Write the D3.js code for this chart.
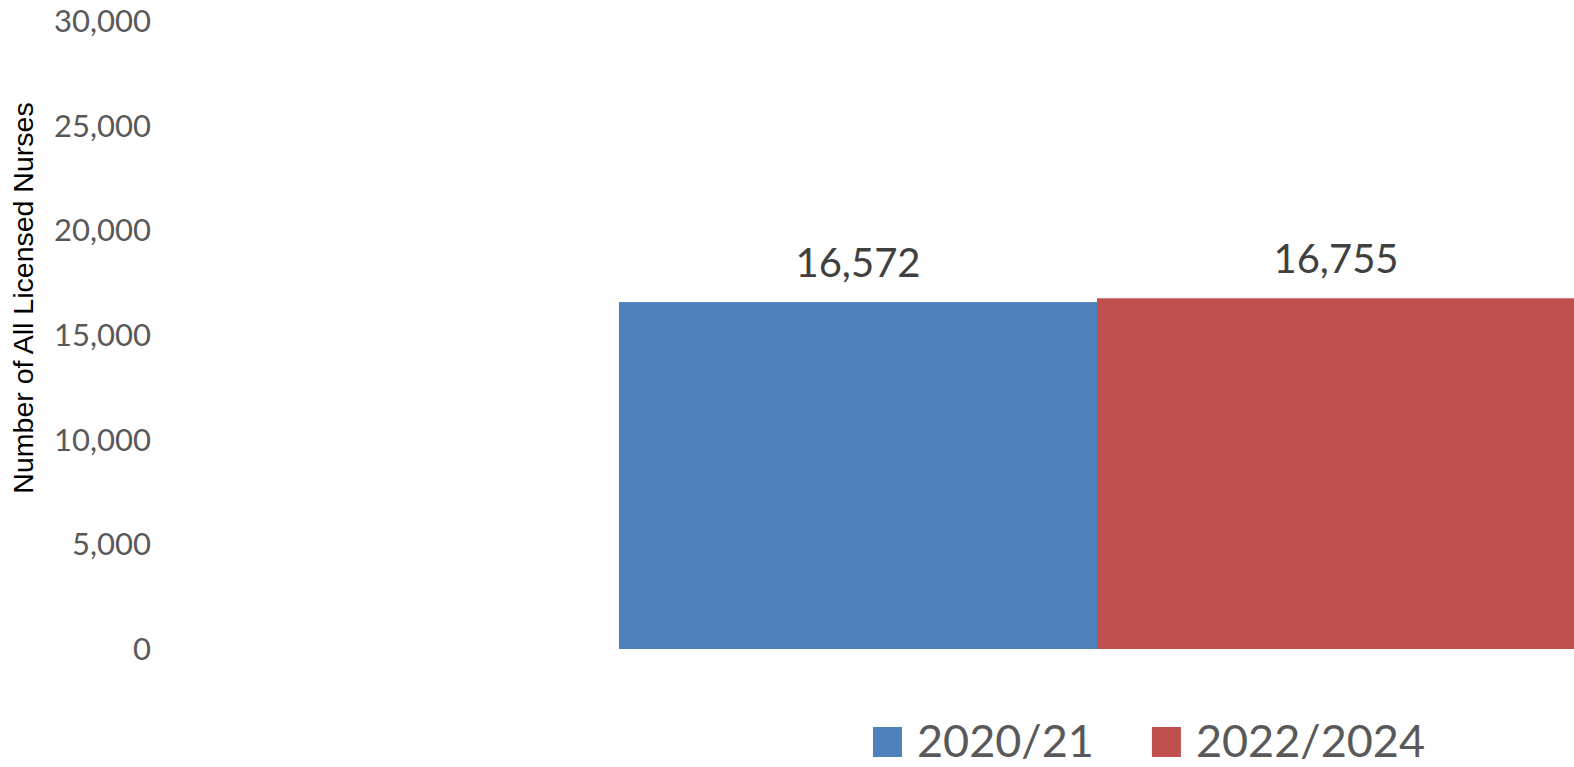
<!DOCTYPE html>
<html>
<head>
<meta charset="utf-8">
<script src="https://cdn.jsdelivr.net/npm/d3@7"></script>
<style>
  body { margin: 0; background: #fff; }
  svg { display: block; }
</style>
</head>
<body>
<script>
// chart data
const categories = ["All Licensed Nurses"];
const seriesNames = ["2020/21", "2022/2024"];
const seriesValues = [16572, 16755];
const seriesColors = ["#4F81BD", "#C0504D"];
const yTicks = [0, 5000, 10000, 15000, 20000, 25000, 30000];

let svg = null;
let x, xInner, y = null;
const W = 1574, H = 767;

setupSvg("body");
setupScales();
appendYAxis();
appendBars();
appendLegend();

function setupSvg(el) {
  svg = d3.select(el).append("svg")
    .attr("width", W)
    .attr("height", H);
}

function setupScales() {
  y = d3.scaleLinear()
    .domain([0, 30000])
    .range([649, 21]);

  // one category, the two series fill the group side by side
  x = d3.scaleBand()
    .domain(categories)
    .range([619, 1575]);

  xInner = d3.scaleBand()
    .domain(seriesNames)
    .range([0, x.bandwidth()]);
}

function appendYAxis() {
  const fmt = d3.format(",");
  svg.append("g")
    .selectAll("text")
    .data(yTicks)
    .join("text")
    .attr("x", 151)
    .attr("y", d => y(d))
    .attr("dy", "0.36em")
    .attr("text-anchor", "end")
    .style("font-family", "Lato, 'Open Sans', sans-serif")
    .style("font-size", "31px")
    .style("fill", "#595959")
    .text(d => fmt(d));

  // axis title
  svg.append("text")
    .attr("transform", "rotate(-90)")
    .attr("x", -298)
    .attr("y", 33)
    .attr("text-anchor", "middle")
    .style("font-family", "'Liberation Sans', Arial, sans-serif")
    .style("font-size", "28.5px")
    .style("fill", "#000")
    .text("Number of All Licensed Nurses");
}

function appendBars() {
  const fmt = d3.format(",");
  const rows = seriesNames.map((s, i) => ({name: s, value: seriesValues[i], color: seriesColors[i]}));
  const g = svg.append("g")
    .attr("transform", `translate(${x(categories[0])},0)`);

  g.selectAll("rect")
    .data(rows)
    .join("rect")
    .attr("x", d => xInner(d.name))
    .attr("y", d => y(d.value))
    .attr("width", xInner.bandwidth())
    .attr("height", d => y(0) - y(d.value))
    .style("fill", d => d.color);

  g.selectAll("text.label")
    .data(rows)
    .join("text")
    .attr("class", "label")
    .attr("x", d => xInner(d.name) + xInner.bandwidth() / 2)
    .attr("y", d => y(d.value) - 25)
    .attr("text-anchor", "middle")
    .style("font-family", "Lato, 'Open Sans', sans-serif")
    .style("font-size", "40px")
    .style("fill", "#404040")
    .text(d => fmt(d.value));
}

function appendLegend() {
  const legend = svg.append("g");
  const items = legend.selectAll("g")
    .data(seriesNames)
    .join("g");

  items.append("rect")
    .attr("width", 29)
    .attr("height", 30)
    .attr("y", -30)
    .style("fill", (d, i) => seriesColors[i]);

  items.append("text")
    .attr("x", 44)
    .style("font-family", "Lato, 'Open Sans', sans-serif")
    .style("font-size", "45px")
    .style("fill", "#595959")
    .text(d => d);

  // lay items out left to right, then center the row
  let cx = 0;
  items.each(function() {
    const w = d3.select(this).select("text").node().getComputedTextLength() + 44;
    d3.select(this).attr("transform", `translate(${cx},0)`);
    cx += w + 58;
  });
  const total = cx - 58;
  legend.attr("transform", `translate(${1149 - total / 2},757)`);
}
</script>
</body>
</html>
